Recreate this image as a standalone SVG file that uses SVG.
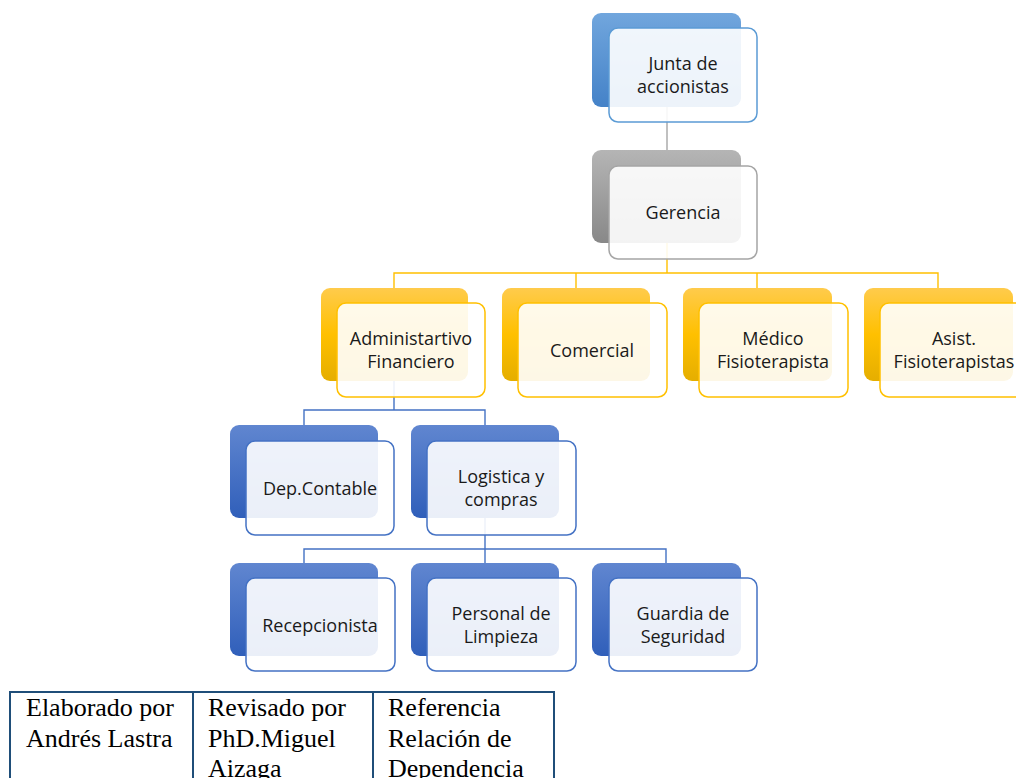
<svg xmlns="http://www.w3.org/2000/svg" width="1016" height="778" viewBox="0 0 1016 778">
<defs>
<linearGradient id="gBlueTop" x1="0" y1="0" x2="0" y2="1"><stop offset="0" stop-color="#71A6DD"/><stop offset="1" stop-color="#4482C8"/></linearGradient>
<linearGradient id="gGray" x1="0" y1="0" x2="0" y2="1"><stop offset="0" stop-color="#B5B5B5"/><stop offset="1" stop-color="#888888"/></linearGradient>
<linearGradient id="gOrange" x1="0" y1="0" x2="0" y2="1"><stop offset="0" stop-color="#FFCB4C"/><stop offset="0.5" stop-color="#FFC000"/><stop offset="1" stop-color="#E5AE00"/></linearGradient>
<linearGradient id="gBlue" x1="0" y1="0" x2="0" y2="1"><stop offset="0" stop-color="#6086D0"/><stop offset="1" stop-color="#305FBA"/></linearGradient>
</defs>
<style>
.back{stroke:none}
.front{fill:#FFFFFF;fill-opacity:0.9;stroke-width:1.5}
.fb1{stroke:#5B9BD5}
.fg{stroke:#A5A5A5}
.fo{stroke:#FFC000}
.fb{stroke:#4472C4}
.lbl{font-family:"Open Sans","Liberation Sans",sans-serif;font-size:18px;fill:#1A1A1A;text-anchor:middle}
.conn{fill:none;stroke-width:1.4}
.tbl{font-family:"Liberation Serif","Times New Roman",serif;font-size:26px;fill:#000}
</style>
<rect width="1016" height="778" fill="#FFFFFF"/>
<g id="connectors">
<path class="conn" stroke="#A5A5A5" d="M667 107 V150"/>
<path class="conn" stroke="#FFC000" d="M667 243 V273 M394 288 V273 H938 V288 M576 273 V288 M757 273 V288"/>
<path class="conn" stroke="#4472C4" d="M394 381 V410 M304 425 V410 H485 V425"/>
<path class="conn" stroke="#4472C4" d="M485 518 V549 M304 563 V549 H666 V563 M485 549 V563"/>
</g>
<g id="n-junta">
<rect class="back" x="592" y="13" width="149" height="94" rx="9" fill="url(#gBlueTop)"/>
<rect class="front fb1" x="609" y="28" width="148" height="94" rx="9"/>
<text class="lbl" x="683" y="69.5">Junta de</text>
<text class="lbl" x="683" y="92.5">accionistas</text>
</g>
<g id="n-gerencia">
<rect class="back" x="592" y="150" width="149" height="93" rx="9" fill="url(#gGray)"/>
<rect class="front fg" x="609" y="166" width="148" height="93" rx="9"/>
<text class="lbl" x="683" y="219">Gerencia</text>
</g>
<g id="n-admin">
<rect class="back" x="321" y="288" width="147" height="93" rx="9" fill="url(#gOrange)"/>
<rect class="front fo" x="337" y="303" width="148" height="94" rx="9"/>
<text class="lbl" x="411" y="344.5">Administartivo</text>
<text class="lbl" x="411" y="367.5">Financiero</text>
</g>
<g id="n-comercial">
<rect class="back" x="502" y="288" width="148" height="93" rx="9" fill="url(#gOrange)"/>
<rect class="front fo" x="518" y="303" width="149" height="94" rx="9"/>
<text class="lbl" x="592" y="356.5">Comercial</text>
</g>
<g id="n-medico">
<rect class="back" x="683" y="288" width="149" height="93" rx="9" fill="url(#gOrange)"/>
<rect class="front fo" x="699" y="303" width="149" height="94" rx="9"/>
<text class="lbl" x="773" y="344.5">Médico</text>
<text class="lbl" x="773" y="367.5">Fisioterapista</text>
</g>
<g id="n-asist">
<rect class="back" x="864" y="288" width="149" height="93" rx="9" fill="url(#gOrange)"/>
<rect class="front fo" x="880" y="303" width="149" height="94" rx="9"/>
<text class="lbl" x="954" y="344.5">Asist.</text>
<text class="lbl" x="954" y="367.5">Fisioterapistas</text>
</g>
<g id="n-contable">
<rect class="back" x="230" y="425" width="148" height="93" rx="9" fill="url(#gBlue)"/>
<rect class="front fb" x="246" y="441" width="148" height="94" rx="9"/>
<text class="lbl" x="320" y="494.5">Dep.Contable</text>
</g>
<g id="n-logistica">
<rect class="back" x="411" y="425" width="148" height="93" rx="9" fill="url(#gBlue)"/>
<rect class="front fb" x="427" y="441" width="149" height="94" rx="9"/>
<text class="lbl" x="501" y="482.5">Logistica y</text>
<text class="lbl" x="501" y="505.5">compras</text>
</g>
<g id="n-recepcionista">
<rect class="back" x="230" y="563" width="148" height="93" rx="9" fill="url(#gBlue)"/>
<rect class="front fb" x="246" y="578" width="149" height="93" rx="9"/>
<text class="lbl" x="320" y="631.5">Recepcionista</text>
</g>
<g id="n-limpieza">
<rect class="back" x="411" y="563" width="148" height="93" rx="9" fill="url(#gBlue)"/>
<rect class="front fb" x="427" y="578" width="149" height="93" rx="9"/>
<text class="lbl" x="501" y="619.5">Personal de</text>
<text class="lbl" x="501" y="642.5">Limpieza</text>
</g>
<g id="n-guardia">
<rect class="back" x="592" y="563" width="149" height="93" rx="9" fill="url(#gBlue)"/>
<rect class="front fb" x="609" y="578" width="148" height="93" rx="9"/>
<text class="lbl" x="683" y="619.5">Guardia de</text>
<text class="lbl" x="683" y="642.5">Seguridad</text>
</g>
<g id="table">
<rect x="10" y="692" width="544" height="110" fill="none" stroke="#1F4E79" stroke-width="2"/>
<line x1="193" y1="692" x2="193" y2="778" stroke="#1F4E79" stroke-width="2"/>
<line x1="373" y1="692" x2="373" y2="778" stroke="#1F4E79" stroke-width="2"/>
<text class="tbl" x="26" y="716">Elaborado por</text>
<text class="tbl" x="26" y="747">Andrés Lastra</text>
<text class="tbl" x="208" y="716">Revisado por</text>
<text class="tbl" x="208" y="747">PhD.Miguel</text>
<text class="tbl" x="208" y="777">Aizaga</text>
<text class="tbl" x="388" y="716">Referencia</text>
<text class="tbl" x="388" y="747">Relación de</text>
<text class="tbl" x="388" y="777">Dependencia</text>
</g>
</svg>
